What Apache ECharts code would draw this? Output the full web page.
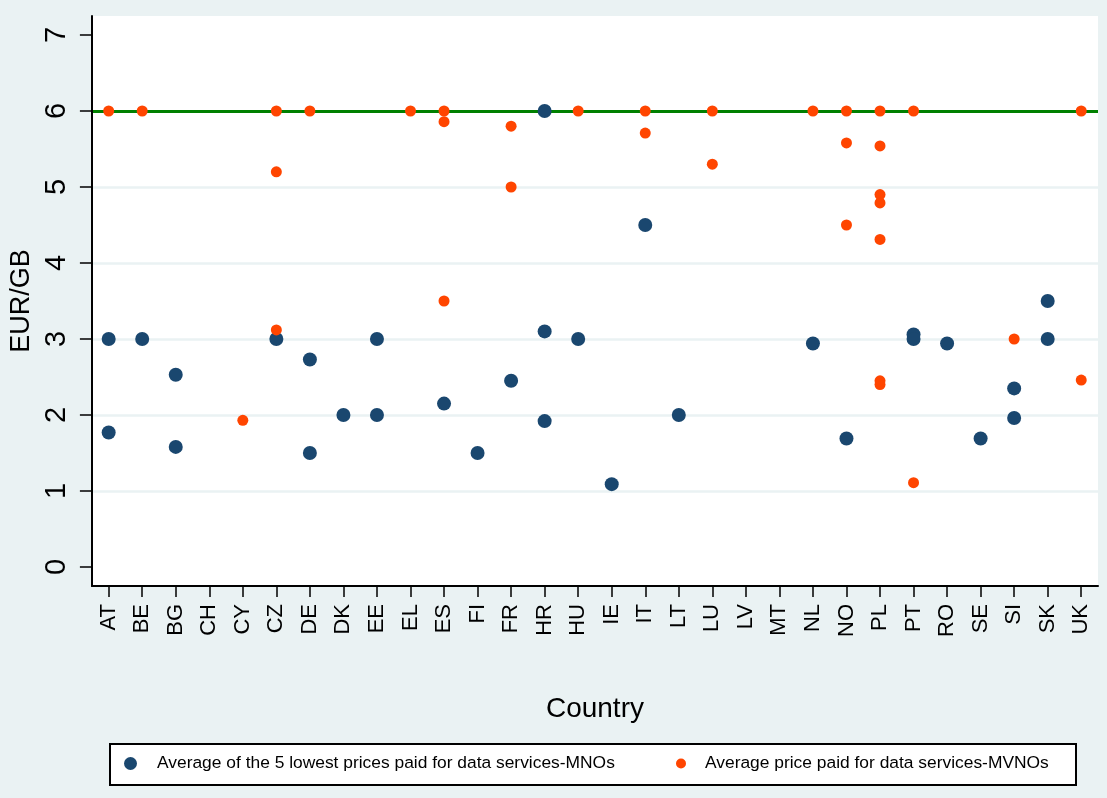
<!DOCTYPE html>
<html>
<head>
<meta charset="utf-8">
<script src="https://cdn.jsdelivr.net/npm/echarts@6/dist/echarts.min.js"></script>
<style>
html,body{margin:0;padding:0;background:#eaf2f3;}
#chart{width:1107px;height:798px;}
</style>
</head>
<body>
<div id="chart"></div>
<script>
const countries = ["AT","BE","BG","CH","CY","CZ","DE","DK","EE","EL","ES","FI","FR","HR","HU","IE","IT","LT","LU","LV","MT","NL","NO","PL","PT","RO","SE","SI","SK","UK"];
const yTicks = [0,1,2,3,4,5,6,7];
const yGridLines = [1,2,3,4,5];
const capValue = 6;

const mnoName = "Average of the 5 lowest prices paid for data services-MNOs";
const mnoCountry = ["AT","AT","BE","BG","BG","CZ","DE","DE","DK","EE","EE","ES","FI","FR","HR","HR","HR","HU","IE","IT","LT","NL","NO","PT","PT","RO","SE","SI","SI","SK","SK"];
const mnoPrice   = [3.0, 1.77,3.0, 2.53,1.58,3.0, 2.73,1.5, 2.0, 3.0, 2.0, 2.15,1.5, 2.45,6.0, 3.10,1.92,3.0, 1.09,4.5, 2.0, 2.94,1.69,3.06,3.0, 2.94,1.69,2.35,1.96,3.5, 3.0];

const mvnoName = "Average price paid for data services-MVNOs";
const mvnoCountry = ["AT","BE","CY","CZ","CZ","CZ","DE","EL","ES","ES","ES","FR","FR","HU","IT","IT","LU","LU","NL","NO","NO","NO","PL","PL","PL","PL","PL","PL","PL","PT","PT","SI","UK","UK"];
const mvnoPrice   = [6,   6,   1.93,6,   5.20,3.12,6,   6,   6,   5.86,3.5, 5.80,5.0, 6,   6,   5.71,6,   5.30,6,   6,   5.58,4.5, 6,   5.54,4.90,4.79,4.31,2.45,2.40,6,   1.11,3.0, 6,   2.46];

const zip = (c, v) => c.map((k, i) => [k, v[i]]);

const chart = echarts.init(document.getElementById('chart'), null, {renderer: 'canvas'});
const font = '"Liberation Sans", Arial, sans-serif';

chart.setOption({
  backgroundColor: '#eaf2f3',
  textStyle: {fontFamily: font},
  grid: {left: 89, right: 9, top: 16, bottom: 212, show: true, backgroundColor: '#ffffff', borderWidth: 0, containLabel: false},
  xAxis: {
    type: 'category',
    data: countries,
    boundaryGap: true,
    name: 'Country',
    nameLocation: 'middle',
    nameGap: 109,
    nameTextStyle: {fontSize: 28, color: '#000', fontFamily: font},
    axisLine: {show: true, onZero: false, lineStyle: {color: '#000', width: 2}},
    axisTick: {show: true, alignWithLabel: true, length: 11, lineStyle: {color: '#000', width: 1.5}},
    axisLabel: {interval: 0, rotate: 90, fontSize: 22, color: '#000', margin: 18, fontFamily: font},
    splitLine: {show: false}
  },
  yAxis: [
    {
      type: 'value',
      min: -0.25,
      max: 7.25,
      name: 'EUR/GB',
      nameLocation: 'middle',
      nameGap: 46,
      nameTextStyle: {fontSize: 27, color: '#000', fontFamily: font},
      axisLine: {show: true, onZero: false, lineStyle: {color: '#000', width: 2}},
      axisTick: {show: true, length: 12, customValues: yTicks, lineStyle: {color: '#000', width: 1.5}},
      axisLabel: {rotate: 90, fontSize: 29, color: '#000', margin: 20, customValues: yTicks, fontFamily: font},
      splitLine: {show: false},
      z: 3
    },
    {
      type: 'value',
      position: 'left',
      min: -0.25,
      max: 7.25,
      axisLine: {show: false},
      axisTick: {show: false, customValues: yGridLines},
      axisLabel: {show: false, customValues: yGridLines},
      splitLine: {show: true, lineStyle: {color: '#eaf2f3', width: 2.5}},
      z: 1
    }
  ],
  legend: [
    {
      data: [mnoName],
      left: 124, top: 755, padding: 0,
      itemWidth: 13, itemHeight: 13, icon: 'circle',
      textStyle: {fontSize: 17.4, color: '#000', padding: [0,0,0,15], fontFamily: font},
      selectedMode: false
    },
    {
      data: [mvnoName],
      left: 676, top: 755, padding: 0,
      itemWidth: 10, itemHeight: 10, icon: 'circle',
      textStyle: {fontSize: 17.4, color: '#000', padding: [0,0,0,14], fontFamily: font},
      selectedMode: false
    }
  ],
  graphic: [{
    type: 'rect',
    shape: {x: 110, y: 744, width: 966, height: 41},
    style: {fill: '#ffffff', stroke: '#000', lineWidth: 2},
    z: -1, silent: true
  }],
  series: [
    {
      name: mnoName,
      type: 'scatter',
      yAxisIndex: 0,
      data: zip(mnoCountry, mnoPrice),
      symbolSize: 14,
      itemStyle: {color: '#1a476f', opacity: 1},
      z: 3,
      markLine: {
        silent: true,
        z: 1,
        symbol: ['none', 'none'],
        label: {show: false},
        lineStyle: {color: '#008000', width: 3, type: 'solid'},
        data: [{yAxis: capValue}]
      }
    },
    {
      name: mvnoName,
      type: 'scatter',
      yAxisIndex: 0,
      data: zip(mvnoCountry, mvnoPrice),
      symbolSize: 11,
      itemStyle: {color: '#ff4500', opacity: 1},
      z: 4
    }
  ]
});
</script>
</body>
</html>
